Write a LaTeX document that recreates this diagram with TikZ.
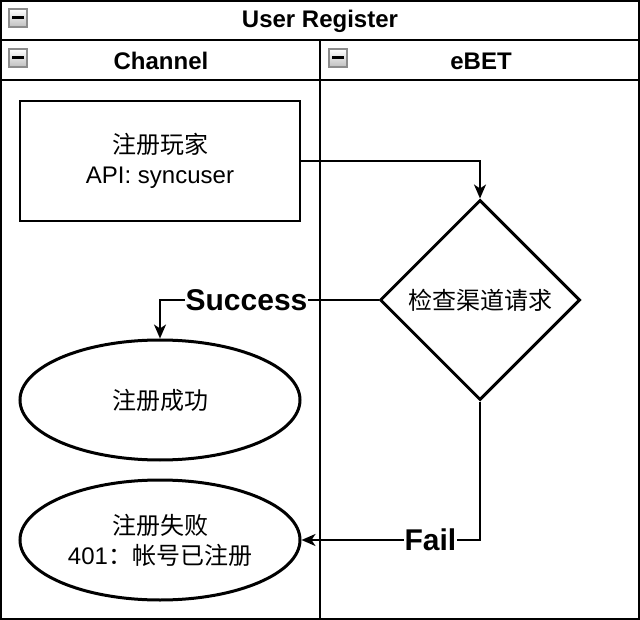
\documentclass[tikz,border=0pt]{standalone}
\usepackage{fontspec}
\setmainfont{Liberation Sans}
\newfontfamily\cjk{Noto Sans CJK SC}
\usetikzlibrary{arrows.meta,shapes.geometric}
\begin{document}
\begin{tikzpicture}[x=1pt,y=-1pt,
  lane/.style={draw=black,line width=2pt},
  hdr/.style={font=\fontsize{24}{28}\selectfont\bfseries},
  body/.style={font=\fontsize{24}{30}\selectfont,align=center},
  lbl/.style={font=\fontsize{30}{34}\selectfont\bfseries,fill=white,inner sep=1pt},
  flow/.style={draw=black,line width=2pt,-{Stealth[length=14pt,width=12pt,inset=4pt]}},
  thick shape/.style={draw=black,line width=3pt}
]
\useasboundingbox (0,0) rectangle (640,620);
\fill[white] (0,0) rectangle (640,620);
% pool and lanes
\draw[lane] (1,1) rectangle (639,619);
\draw[lane] (1,40) -- (639,40);
\draw[lane] (1,80) -- (639,80);
\draw[lane] (320,40) -- (320,619);
% collapse icons
\foreach \x/\y in {9/9,9/49,329/49}{
  \shade[top color=white,bottom color=black!25] (\x,\y) rectangle ++(18,18);
  \draw[black!45,line width=1.5pt] (\x,\y) rectangle ++(18,18);
  \fill[black] (\x+3,\y+7.5) rectangle ++(12,2.5);
}
\node[hdr] (title) at (320,21) {User Register};
\node[hdr] (chan) at (161,61) {Channel};
\node[hdr] (ebet) at (481,61) {eBET};
% shapes
\node[draw=black,line width=2pt,minimum width=280pt,minimum height=120pt,body] (reg) at (160,161) {{\cjk 注册玩家}\\API: syncuser};
\node[thick shape,diamond,minimum width=200pt,minimum height=200pt,inner sep=0pt,aspect=1,body] (chk) at (480,300) {\cjk 检查渠道请求};
\node[thick shape,ellipse,minimum width=280pt,minimum height=120pt,inner sep=0pt,body] (ok) at (160,400) {\cjk 注册成功};
\node[thick shape,ellipse,minimum width=280pt,minimum height=120pt,inner sep=0pt,body] (fail) at (160,540) {{\cjk 注册失败}\\401{\cjk ：帐号已注册}};
% connectors
\draw[flow] (reg.east) -| (chk.north);
\draw[flow] (chk.west) -| node[lbl,pos=0.302] {Success} (ok.north);
\draw[flow] (chk.south) |- node[lbl,pos=0.639] {Fail} (fail.east);
\end{tikzpicture}
\end{document}
